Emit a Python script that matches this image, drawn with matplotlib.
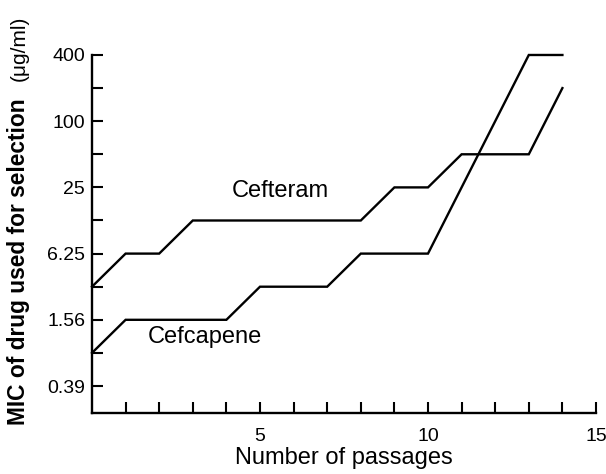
import numpy as np
import matplotlib
matplotlib.use("Agg")
import matplotlib.pyplot as plt

plt.rcParams["font.family"] = ["Liberation Sans", "DejaVu Sans"]

passages = list(range(0, 15))
cefteram = [3.125, 6.25, 6.25, 12.5, 12.5, 12.5, 12.5, 12.5, 12.5, 25, 25, 50, 50, 50, 200]
cefcapene = [0.78125, 1.5625, 1.5625, 1.5625, 1.5625, 3.125, 3.125, 3.125, 6.25, 6.25, 6.25, 25, 100, 400, 400]

ytick_vals = [0.390625, 1.5625, 6.25, 25, 100, 400]
ytick_labels = ["0.39", "1.56", "6.25", "25", "100", "400"]
yminor_vals = [0.78125, 3.125, 12.5, 50, 200]
xtick_vals = list(range(1, 16))
xtick_labels = ["" if v % 5 else str(v) for v in xtick_vals]

fig = plt.figure(figsize=(6.06, 4.74), dpi=100)
ax = fig.add_axes([0.1518, 0.1287, 0.8317, 0.7553])

ax.plot(passages, cefteram, color="black", lw=1.7, clip_on=False, solid_joinstyle="miter")
ax.plot(passages, cefcapene, color="black", lw=1.7, clip_on=False, solid_joinstyle="miter")

ax.set_yscale("log", base=2)
ax.set_ylim(0.222, 400)
ax.set_xlim(0, 15)

ax.set_yticks(ytick_vals)
ax.set_yticklabels(ytick_labels)
ax.set_yticks(yminor_vals, minor=True)
ax.set_xticks(xtick_vals)
ax.set_xticklabels(xtick_labels)

ax.tick_params(axis="both", which="both", direction="in", length=8, width=1.5,
               labelsize=14)
ax.tick_params(axis="y", which="both", pad=5)
ax.tick_params(axis="x", which="both", pad=11)
ax.tick_params(axis="y", which="minor", labelleft=False)

for s in ["top", "right"]:
    ax.spines[s].set_visible(False)
for s in ["left", "bottom"]:
    ax.spines[s].set_linewidth(1.7)

ax.text(5.6, 23.2, "Cefteram", fontsize=17, ha="center", va="center")
ax.text(3.36, 1.09, "Cefcapene", fontsize=17, ha="center", va="center")

ax.set_xlabel("Number of passages", fontsize=17, labelpad=1)
fig.text(0.03, 0.447, "MIC of drug used for selection", rotation=90,
         fontsize=16.4, fontweight="bold", ha="center", va="center")
fig.text(0.032, 0.899, "(μg/ml)", rotation=90, fontsize=15,
         ha="center", va="center")

fig.savefig("out.png", dpi=100)
